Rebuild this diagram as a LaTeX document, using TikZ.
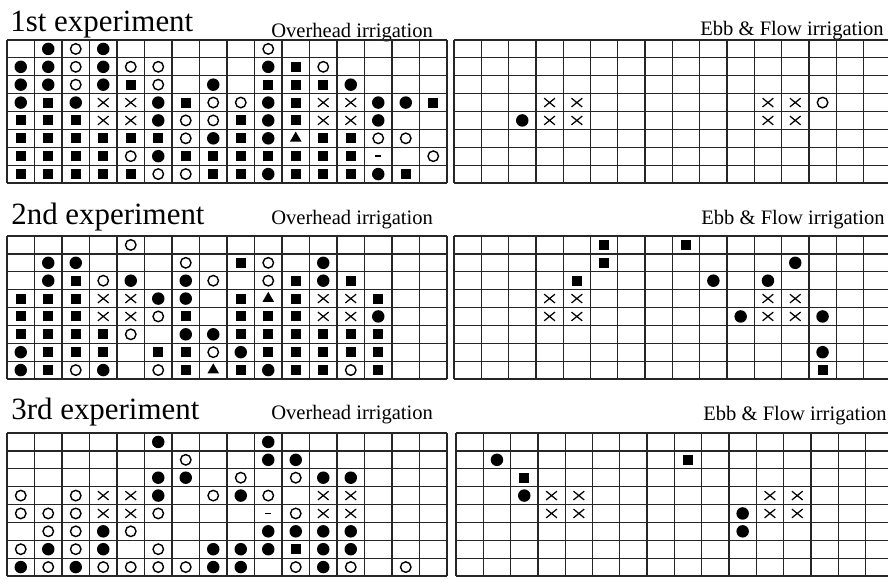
\documentclass[tikz,border=0pt]{standalone}
\usepackage{fontspec}
\setmainfont{Liberation Serif}
\usetikzlibrary{shapes.geometric, shapes.misc}

\begin{document}
\begin{tikzpicture}[
    x=0.02cm, y=-0.02cm,
    grid line/.style={black!85, line width=0.7pt},
    exp title/.style={anchor=base west, inner sep=0pt, font=\fontsize{17.6}{20}\selectfont},
    subhead/.style={anchor=base west, inner sep=0pt, font=\fontsize{11.7}{14}\selectfont},
    sym-F/.style={circle, fill=black, inner sep=0pt, minimum size=2.5mm},
    sym-O/.style={circle, draw=black, line width=0.8pt, inner sep=0pt, minimum size=2.1mm},
    sym-S/.style={rectangle, fill=black, inner sep=0pt, minimum size=2.0mm},
    sym-X/.style={cross out, draw=black, line width=0.7pt, inner sep=0pt, minimum width=1.9mm, minimum height=1.5mm},
    sym-T/.style={regular polygon, regular polygon sides=3, fill=black, inner sep=0pt, minimum size=2.7mm},
    sym-D/.style={rectangle, fill=black, inner sep=0pt, minimum width=1.2mm, minimum height=0.28mm}
]
\useasboundingbox (0,0) rectangle (888,579);

% ==================== 1st EXPERIMENT ====================
\node[exp title] (t1) at (10,31) {1st experiment};
\node[subhead] (oh1) at (271,37) {Overhead irrigation};
\node[subhead] (ef1) at (700,35) {Ebb \& Flow irrigation};

\begin{scope}[shift={(7,40)}]
    \def\cw{27.5}\def\rh{17.875}
    % Cells
    \foreach \c in {0,...,16} \draw[grid line] (\c*\cw,0) -- (\c*\cw,8*\rh);
    \foreach \r in {0,...,8} \draw[grid line] (0,\r*\rh) -- (16*\cw,\r*\rh);
    % Marks
    \foreach \r/\cells in {
        1/{2/F,3/O,4/F,10/O},
        2/{1/F,2/F,3/O,4/F,5/O,6/O,10/F,11/S,12/O},
        3/{1/F,2/F,3/O,4/F,5/S,6/O,8/F,10/S,11/S,12/S,13/F},
        4/{1/F,2/S,3/F,4/X,5/X,6/F,7/S,8/O,9/O,10/F,11/S,12/X,13/X,14/F,15/F,16/S},
        5/{1/S,2/S,3/S,4/X,5/X,6/F,7/O,8/O,9/S,10/F,11/S,12/X,13/X,14/F},
        6/{1/S,2/S,3/S,4/S,5/S,6/S,7/O,8/F,9/S,10/F,11/T,12/S,13/S,14/O,15/O},
        7/{1/S,2/S,3/S,4/S,5/O,6/F,7/S,8/S,9/S,10/S,11/S,12/S,13/S,14/D,16/O},
        8/{1/S,2/S,3/S,4/S,5/S,6/O,7/O,8/S,9/S,10/F,11/S,12/S,13/S,14/F,15/S}}
        \foreach \c/\s in \cells
            \node[sym-\s] (oh1-\r-\c) at ({(\c-0.5)*\cw},{(\r-0.5)*\rh}) {};
\end{scope}

\begin{scope}[shift={(454,40)}]
    \def\cw{27.3}\def\rh{17.875}
    % Cells
    \foreach \c in {0,...,16} \draw[grid line] (\c*\cw,0) -- (\c*\cw,8*\rh);
    \foreach \r in {0,...,8} \draw[grid line] (0,\r*\rh) -- (16*\cw,\r*\rh);
    % Marks
    \foreach \r/\cells in {
        4/{4/X,5/X,12/X,13/X,14/O},
        5/{3/F,4/X,5/X,12/X,13/X}}
        \foreach \c/\s in \cells
            \node[sym-\s] (ef1-\r-\c) at ({(\c-0.5)*\cw},{(\r-0.5)*\rh}) {};
\end{scope}

% ==================== 2nd EXPERIMENT ====================
\node[exp title] (t2) at (11,224) {2nd experiment};
\node[subhead] (oh2) at (271,224) {Overhead irrigation};
\node[subhead] (ef2) at (701,224) {Ebb \& Flow irrigation};

\begin{scope}[shift={(7,236)}]
    \def\cw{27.5}\def\rh{17.875}
    % Cells
    \foreach \c in {0,...,16} \draw[grid line] (\c*\cw,0) -- (\c*\cw,8*\rh);
    \foreach \r in {0,...,8} \draw[grid line] (0,\r*\rh) -- (16*\cw,\r*\rh);
    % Marks
    \foreach \r/\cells in {
        1/{5/O},
        2/{2/F,3/F,7/O,9/S,10/O,12/F},
        3/{2/F,3/S,4/O,5/F,7/F,8/O,10/O,11/S,12/F,13/S},
        4/{1/S,2/S,3/S,4/X,5/X,6/F,7/F,9/S,10/T,11/S,12/X,13/X,14/S},
        5/{1/S,2/S,3/S,4/X,5/X,6/O,7/S,9/S,10/S,11/S,12/X,13/X,14/F},
        6/{1/S,2/S,3/S,4/S,5/O,7/F,8/F,9/S,10/S,11/S,12/S,13/S,14/S},
        7/{1/F,2/S,3/S,4/S,6/S,7/S,8/O,9/F,10/S,11/S,12/S,13/S,14/S},
        8/{1/F,2/S,3/O,4/F,6/O,7/S,8/T,9/S,10/F,11/S,12/S,13/O,14/S}}
        \foreach \c/\s in \cells
            \node[sym-\s] (oh2-\r-\c) at ({(\c-0.5)*\cw},{(\r-0.5)*\rh}) {};
\end{scope}

\begin{scope}[shift={(454,236)}]
    \def\cw{27.3}\def\rh{17.875}
    % Cells
    \foreach \c in {0,...,16} \draw[grid line] (\c*\cw,0) -- (\c*\cw,8*\rh);
    \foreach \r in {0,...,8} \draw[grid line] (0,\r*\rh) -- (16*\cw,\r*\rh);
    % Marks
    \foreach \r/\cells in {
        1/{6/S,9/S},
        2/{6/S,13/F},
        3/{5/S,10/F,12/F},
        4/{4/X,5/X,12/X,13/X},
        5/{4/X,5/X,11/F,12/X,13/X,14/F},
        7/{14/F},
        8/{14/S}}
        \foreach \c/\s in \cells
            \node[sym-\s] (ef2-\r-\c) at ({(\c-0.5)*\cw},{(\r-0.5)*\rh}) {};
\end{scope}

% ==================== 3rd EXPERIMENT ====================
\node[exp title] (t3) at (11,419) {3rd experiment};
\node[subhead] (oh3) at (271,419) {Overhead irrigation};
\node[subhead] (ef3) at (703,420) {Ebb \& Flow irrigation};

\begin{scope}[shift={(7,433)}]
    \def\cw{27.5}\def\rh{17.875}
    % Cells
    \foreach \c in {0,...,16} \draw[grid line] (\c*\cw,0) -- (\c*\cw,8*\rh);
    \foreach \r in {0,...,8} \draw[grid line] (0,\r*\rh) -- (16*\cw,\r*\rh);
    % Marks
    \foreach \r/\cells in {
        1/{6/F,10/F},
        2/{7/O,10/F,11/F},
        3/{6/F,7/F,9/O,11/O,12/F,13/F},
        4/{1/O,3/O,4/X,5/X,6/F,8/O,9/F,10/O,12/X,13/X},
        5/{1/O,2/O,3/O,4/X,5/X,6/O,10/D,11/O,12/X,13/X},
        6/{2/O,3/O,4/F,5/O,10/F,11/F,12/F,13/F},
        7/{1/O,2/F,3/O,4/F,6/O,8/F,9/F,10/F,11/S,12/F,13/F},
        8/{1/F,2/O,3/F,4/O,5/O,6/O,7/O,8/F,9/F,11/O,12/F,13/O,15/O}}
        \foreach \c/\s in \cells
            \node[sym-\s] (oh3-\r-\c) at ({(\c-0.5)*\cw},{(\r-0.5)*\rh}) {};
\end{scope}

\begin{scope}[shift={(456,433)}]
    \def\cw{27.3}\def\rh{17.875}
    % Cells
    \foreach \c in {0,...,16} \draw[grid line] (\c*\cw,0) -- (\c*\cw,8*\rh);
    \foreach \r in {0,...,8} \draw[grid line] (0,\r*\rh) -- (16*\cw,\r*\rh);
    % Marks
    \foreach \r/\cells in {
        2/{2/F,9/S},
        3/{3/S},
        4/{3/F,4/X,5/X,12/X,13/X},
        5/{4/X,5/X,11/F,12/X,13/X},
        6/{11/F}}
        \foreach \c/\s in \cells
            \node[sym-\s] (ef3-\r-\c) at ({(\c-0.5)*\cw},{(\r-0.5)*\rh}) {};
\end{scope}

\end{tikzpicture}
\end{document}
